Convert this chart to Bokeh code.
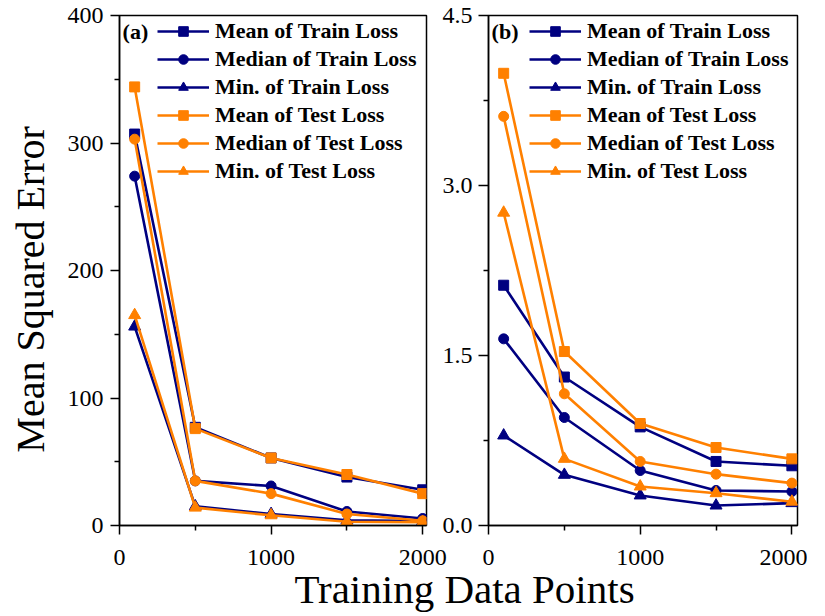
from bokeh.plotting import figure
from bokeh.models import (Range1d, Legend, LegendItem, Label, FixedTicker,
                          PrintfTickFormatter, ColumnDataSource)
from bokeh.layouts import row, column
from bokeh.embed import file_html
from bokeh.resources import INLINE

# ---------------- data ----------------
train_points = [100, 500, 1000, 1500, 2000]
series_names = ["Mean of Train Loss", "Median of Train Loss", "Min. of Train Loss",
                "Mean of Test Loss", "Median of Test Loss", "Min. of Test Loss"]

# panel (a)
a_mean_train = [307, 77, 53, 38, 28]
a_median_train = [274, 35, 31, 11, 5.5]
a_min_train = [156, 15, 9, 4, 3.5]
a_mean_test = [344, 76, 53, 40, 25]
a_median_test = [303, 35, 25, 9, 3.7]
a_min_test = [165, 14, 8, 3, 2.5]

# panel (b)
b_mean_train = [2.12, 1.31, 0.87, 0.565, 0.527]
b_median_train = [1.647, 0.953, 0.485, 0.309, 0.30]
b_min_train = [0.794, 0.447, 0.265, 0.176, 0.197]
b_mean_test = [3.99, 1.535, 0.90, 0.688, 0.588]
b_median_test = [3.61, 1.162, 0.565, 0.453, 0.374]
b_min_test = [2.76, 0.588, 0.344, 0.285, 0.21]

x_ticks = [0, 1000, 2000]
x_minor_ticks = [500, 1500]
a_y_ticks = [0, 100, 200, 300, 400]
a_y_minor = [50, 150, 250, 350]
b_y_ticks = [0, 1.5, 3.0, 4.5]
b_y_minor = [0.75, 2.25, 3.75]

panel_tags = ["(a)", "(b)"]
x_title = "Training Data Points"
y_title = "Mean Squared Error"

# ---------------- style ----------------
NAVY = "#000080"
ORANGE = "#FF8000"
colors = [NAVY] * 3 + [ORANGE] * 3
markers = ["square", "circle", "triangle"] * 2
sizes = [10, 10, 12] * 2
SERIF = "Liberation Serif"
FRAME_H = 510
TOP = 15
BOTTOM = 56
H = TOP + FRAME_H + BOTTOM
PAGE_H = 616


def make_panel(width, min_left, min_right, x_end, y_end, data, yt, ymin, tag,
               legend_x, fmt=None, tick_out=9, standoff=7, margin=None):
    kw = {}
    if margin is not None:
        kw["margin"] = margin
    p = figure(width=width, height=H, x_range=Range1d(0, x_end),
               y_range=Range1d(0, y_end), min_border_left=min_left,
               min_border_right=min_right, min_border_top=TOP,
               min_border_bottom=BOTTOM, output_backend="svg",
               toolbar_location=None, **kw)
    p.grid.visible = False
    p.outline_line_color = "black"
    p.outline_line_width = 1.5
    p.outline_line_alpha = 1
    p.xaxis.ticker = FixedTicker(ticks=x_ticks, minor_ticks=x_minor_ticks)
    p.yaxis.ticker = FixedTicker(ticks=yt, minor_ticks=ymin)
    if fmt is not None:
        p.yaxis.formatter = PrintfTickFormatter(format=fmt)
    for ax in p.axis:
        ax.axis_line_width = 1.5
        ax.axis_line_color = "black"
        ax.major_tick_line_width = 1.5
        ax.minor_tick_line_width = 1.5
        ax.major_tick_line_color = "black"
        ax.minor_tick_line_color = "black"
        ax.major_tick_in = 0
        ax.minor_tick_in = 0
        ax.major_tick_out = 9
        ax.minor_tick_out = 5
        ax.major_label_text_font = SERIF
        ax.major_label_text_font_size = "24px"
        ax.major_label_text_color = "black"
    p.xaxis.major_label_standoff = 15
    p.yaxis.major_tick_out = tick_out
    p.yaxis.major_label_standoff = standoff
    items = []
    for name, ys, c, m, s in zip(series_names, data, colors, markers, sizes):
        src = ColumnDataSource(dict(x=train_points, y=ys))
        ln = p.line("x", "y", source=src, line_color=c, line_width=2.6)
        sc = p.scatter("x", "y", source=src, marker=m, size=s, fill_color=c,
                       line_color=c)
        items.append(LegendItem(label=name, renderers=[ln, sc]))
    leg = Legend(items=items, location=(legend_x, 341), padding=0, margin=0,
                 spacing=2, glyph_width=52, glyph_height=24, label_height=26,
                 label_standoff=6, label_text_font=SERIF,
                 label_text_font_style="bold", label_text_font_size="22px",
                 label_text_color="black", border_line_color=None,
                 background_fill_alpha=0)
    p.add_layout(leg)
    p.add_layout(Label(x=x_end * 0.01, y=y_end * (1 - 16 / FRAME_H), text=tag,
                       text_font=SERIF, text_font_style="bold",
                       text_font_size="22px", text_color="black",
                       text_baseline="middle", text_align="left"))
    return p


PY_W = 56
p1 = make_panel(394, 63, 24, 2025, 400,
                [a_mean_train, a_median_train, a_min_train,
                 a_mean_test, a_median_test, a_min_test],
                a_y_ticks, a_y_minor, panel_tags[0], 38)
p2 = make_panel(381, 62, 10, 2037, 4.5,
                [b_mean_train, b_median_train, b_min_train,
                 b_mean_test, b_median_test, b_min_test],
                b_y_ticks, b_y_minor, panel_tags[1], 41, fmt="%.1f",
                tick_out=10, standoff=6, margin=(0, 0, 0, -24))
p1.border_fill_color = "white"
p2.border_fill_color = None

# y title strip
py = figure(width=PY_W, height=H, x_range=Range1d(0, PY_W), y_range=Range1d(0, H),
            min_border=0, x_axis_location=None, y_axis_location=None,
            output_backend="svg", toolbar_location=None)
py.grid.visible = False
py.outline_line_color = None
py.add_layout(Label(x=29.5, y=H - 312, text=y_title, angle=90, angle_units="deg",
                    text_font=SERIF, text_font_size="40px", text_color="black",
                    text_align="center", text_baseline="middle"))

# x title strip (overlaps the bottom border of the panels, transparent)
PX_W = 807
PX_TOP = 561
PX_H = PAGE_H - PX_TOP
px = figure(width=PX_W, height=PX_H, x_range=Range1d(0, PX_W),
            y_range=Range1d(0, PX_H), min_border=0, x_axis_location=None,
            y_axis_location=None, output_backend="svg", toolbar_location=None,
            margin=(PX_TOP - H, 0, 0, 0))
px.grid.visible = False
px.outline_line_color = None
px.border_fill_color = None
px.background_fill_color = None
px.add_layout(Label(x=464, y=PAGE_H - 588, text=x_title, text_font=SERIF,
                    text_font_size="41px", text_color="black",
                    text_align="center", text_baseline="middle"))

layout = column(row(py, p1, p2), px)
open("out.html", "w").write(file_html(layout, INLINE))
